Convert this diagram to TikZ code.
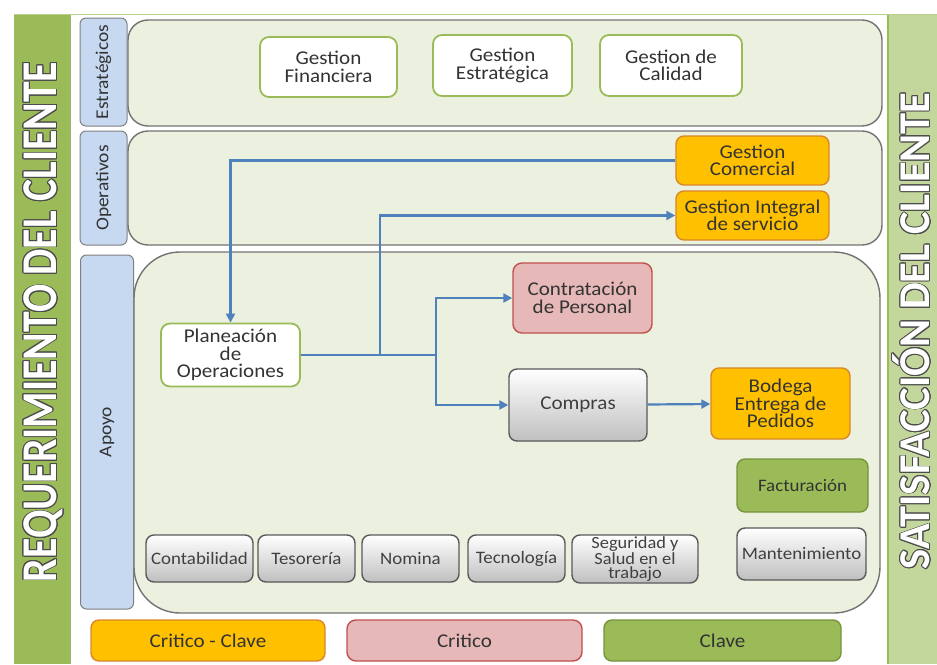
\documentclass[tikz,border=0pt]{standalone}
\usepackage{fontspec}
\setmainfont{Carlito}[FakeStretch=1.08]
\usepackage{contour}
\contourlength{1.1pt}
\usepackage{tikz}
\usetikzlibrary{arrows.meta,calc,positioning}
\definecolor{verdeBarra}{HTML}{9BBB59}
\definecolor{verdeOscuro}{HTML}{77933C}
\definecolor{verdeClaro}{HTML}{C3D69B}
\definecolor{fondoPanel}{HTML}{EBF1DE}
\definecolor{azulTag}{HTML}{C6D9F1}
\definecolor{naranja}{HTML}{FFC000}
\definecolor{naranjaBorde}{HTML}{D8872A}
\definecolor{rosa}{HTML}{E6B9B8}
\definecolor{rosaBorde}{HTML}{C0504D}
\definecolor{azulFlecha}{HTML}{4F81BD}

\begin{document}
\begin{tikzpicture}[
    x=1pt, y=-1pt,
    >={Triangle[length=9pt,width=9pt]},
    every node/.style={text=black!80, align=center, inner sep=0pt},
    txt/.style={font=\fontsize{19.5}{17.5}\selectfont},
    chico/.style={font=\fontsize{17.5}{15}\selectfont},
    panel/.style={draw=black!55, line width=1.4pt, fill=fondoPanel},
    tag/.style={draw=black!50, line width=1pt, fill=azulTag, rounded corners=6pt,
                rotate=90, font=\fontsize{18}{18}\selectfont},
    blanco/.style={txt, draw=verdeBarra, line width=1.8pt, fill=white, rounded corners=9pt},
    critclave/.style={txt, draw=naranjaBorde, line width=1.4pt, fill=naranja, rounded corners=8pt},
    critico/.style={txt, draw=rosaBorde, line width=1.4pt, fill=rosa, rounded corners=9pt},
    clave/.style={txt, draw=verdeOscuro, line width=1.4pt, fill=verdeBarra, rounded corners=8pt},
    soporte/.style={txt, draw=black!65, line width=1.4pt, top color=white, bottom color=black!25,
                    rounded corners=8pt, text=black!75},
    flow/.style={->, draw=azulFlecha, line width=2.2pt}
]
\useasboundingbox (0,0) rectangle (937,664);

% side bars: client requirement in, client satisfaction out
\fill[verdeBarra] (14,14) rectangle (70,664);
\draw[verdeOscuro!70,line width=1pt] (70,14) -- (70,664);
\fill[verdeClaro] (888,14) rectangle (937,664);
\draw[verdeBarra,line width=1.6pt] (888,14) -- (888,664);
\draw[verdeBarra!70,line width=1pt] (14,14) -- (937,14);
\node[rotate=90,text=white] (req) at (44,322)
  {\resizebox{520pt}{\height}{\fontsize{50}{50}\selectfont\bfseries\contour{black!70}{REQUERIMIENTO DEL CLIENTE}}};
\node[rotate=90,text=white] (sat) at (912,331)
  {\resizebox{477pt}{0.88\height}{\fontsize{50}{50}\selectfont\bfseries\contour{black!70}{SATISFACCIÓN DEL CLIENTE}}};

% process panels
\draw[panel,rounded corners=20pt] (128,20) rectangle (882,126);
\draw[panel,rounded corners=20pt] (128,131) rectangle (882,245);
\draw[panel,rounded corners=46pt] (134,252) rectangle (880,613);

\node[tag,minimum width=108,minimum height=47] (tEst) at (103.5,72) {Estratégicos};
\node[tag,minimum width=114,minimum height=47] (tOpe) at (103.5,188) {Operativos};
\node[tag,minimum width=354,minimum height=53] (tApo) at (107,432) {Apoyo};

% strategic
\node[blanco,minimum width=137,minimum height=60] (financiera) at (328.5,67) {Gestion\\Financiera};
\node[blanco,minimum width=139,minimum height=61] (estrategica) at (502.5,65.5) {Gestion\\Estratégica};
\node[blanco,minimum width=142,minimum height=61] (calidad) at (671,65.5) {Gestion de\\Calidad};

% operative
\node[critclave,minimum width=153,minimum height=49] (comercial) at (752.5,160.5) {Gestion\\Comercial};
\node[critclave,minimum width=153,minimum height=49] (integral) at (752.5,215.5) {Gestion Integral\\de servicio};

% support
\node[blanco,minimum width=139,minimum height=63] (planeacion) at (230.5,355) {Planeación\\de\\Operaciones};
\node[critico,minimum width=139,minimum height=70] (contratacion) at (582.5,298) {Contratación\\de Personal};
\node[soporte,minimum width=138,minimum height=72] (compras) at (578,405) {Compras};
\node[critclave,minimum width=139,minimum height=71] (bodega) at (780.5,403.5) {Bodega\\Entrega de\\Pedidos};
\node[clave,chico,minimum width=131,minimum height=53] (facturacion) at (802.5,485.5) {Facturación};
\node[soporte,chico,minimum width=129,minimum height=52] (mantenimiento) at (801.5,554) {Mantenimiento};

\node[soporte,chico,minimum width=107,minimum height=47] (contabilidad) at (199.5,558.5) {Contabilidad};
\node[soporte,chico,minimum width=97,minimum height=47] (tesoreria) at (306.5,558.5) {Tesorería};
\node[soporte,chico,minimum width=97,minimum height=47] (nomina) at (410.5,558.5) {Nomina};
\node[soporte,chico,minimum width=97,minimum height=47] (tecnologia) at (516.5,558.5) {Tecnología};
\node[soporte,font=\fontsize{17}{14.5}\selectfont,minimum width=126,minimum height=48] (seguridad) at (635,559)
  {Seguridad y\\Salud en el\\trabajo};

% flows
\coordinate (split1) at (380,0);
\coordinate (split2) at (436,0);
\draw[flow] (comercial.west) -| (planeacion.north);
\draw[flow] (split1 |- planeacion.east) |- (integral.west);
\draw[flow] (planeacion.east) -| (split2 |- contratacion.west) -- (contratacion.west);
\draw[flow] (split2 |- planeacion.east) |- (compras.west);
\draw[flow] (compras) -- (bodega);

% legend
\node[critclave,minimum width=234,minimum height=41] (leyCC) at (208,640.5) {Critico - Clave};
\node[critico,minimum width=235,minimum height=41] (leyC) at (464.5,640.5) {Critico};
\node[clave,minimum width=237,minimum height=41] (leyK) at (722.5,640.5) {Clave};
\end{tikzpicture}
\end{document}
